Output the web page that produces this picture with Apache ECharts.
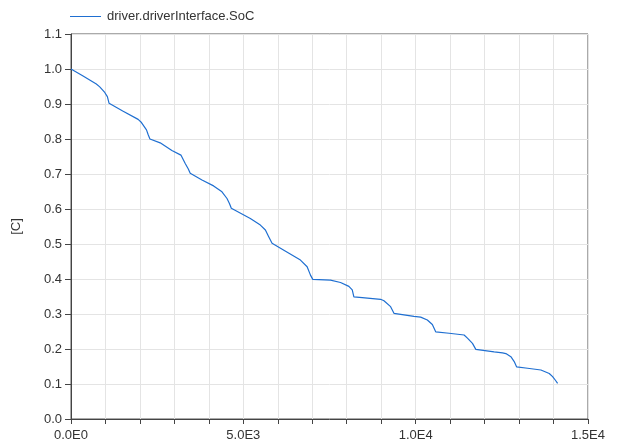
<!DOCTYPE html>
<html><head><meta charset="utf-8">
<script src="https://cdn.jsdelivr.net/npm/echarts@6/dist/echarts.min.js"></script>
<style>html,body{margin:0;padding:0;background:#fff}#c{width:617px;height:446px}</style>
</head><body><div id="c"></div>
<script>
const seriesName = 'driver.driverInterface.SoC';
const timeValues = [0,350,735,834,979,1055,1105,1500,1948,2045,2190,2240,2290,2587,2927,3189,3314,3400,3459,3800,4137,4380,4526,4600,4651,5203,5494,5640,5736,5833,6250,6657,6851,6948,7015,7529,7820,8062,8160,8207,8450,8983,9080,9273,9370,9951,10145,10339,10484,10581,10969,11405,11502,11648,11745,12277,12520,12617,12762,12859,12927,13247,13634,13876,13973,14060,14118];
const socValues = [1.0,0.980,0.957,0.949,0.933,0.921,0.902,0.880,0.856,0.847,0.826,0.812,0.800,0.789,0.767,0.754,0.730,0.715,0.702,0.683,0.666,0.649,0.630,0.615,0.602,0.573,0.554,0.540,0.521,0.502,0.478,0.454,0.435,0.411,0.399,0.397,0.390,0.379,0.369,0.349,0.347,0.342,0.338,0.321,0.302,0.293,0.291,0.283,0.270,0.249,0.245,0.240,0.231,0.216,0.199,0.192,0.189,0.187,0.178,0.164,0.149,0.145,0.140,0.130,0.121,0.110,0.102];
const xTickLabels = {0:'0.0E0',5000:'5.0E3',10000:'1.0E4',15000:'1.5E4'};
const yAxisName = '[C]';

const data = timeValues.map((t,i)=>[t, socValues[i]]);
const chart = echarts.init(document.getElementById('c'));
const font = 'Arial, "Liberation Sans", sans-serif';
const lineColor = '#1f6fd1';
chart.setOption({
  animation:false,
  textStyle:{fontFamily:font},
  legend:{show:true,left:65,top:5,itemWidth:31,itemHeight:1,itemGap:10,
    itemStyle:{color:lineColor,borderWidth:0},
    textStyle:{fontSize:13,color:'#333',fontFamily:font,padding:[0,0,0,1]},
    data:[{name:seriesName,icon:'rect'}]},
  grid:{left:71,right:29,top:34,bottom:27,show:true,borderColor:'#555',borderWidth:1,containLabel:false},
  xAxis:{type:'value',min:0,max:15000,interval:1000,
    axisLine:{show:true,lineStyle:{color:'#444',width:1}},
    axisTick:{show:true,length:5,lineStyle:{color:'#444'}},
    splitLine:{show:true,lineStyle:{color:'#e4e4e4',width:1}},
    axisLabel:{fontSize:13,color:'#333',margin:10,fontFamily:font,
      formatter:v=>xTickLabels[v]!==undefined?xTickLabels[v]:''}},
  yAxis:{type:'value',min:0,max:1.1,interval:0.1,name:yAxisName,nameLocation:'middle',nameGap:48,
    nameTextStyle:{fontSize:13,color:'#333',fontFamily:font},
    axisLine:{show:true,lineStyle:{color:'#444',width:1}},
    axisTick:{show:true,length:6,lineStyle:{color:'#444'}},
    splitLine:{show:true,lineStyle:{color:'#e4e4e4',width:1}},
    axisLabel:{fontSize:13,color:'#333',margin:9,fontFamily:font,formatter:v=>v.toFixed(1)}},
  series:[{name:seriesName,type:'line',data:data,showSymbol:false,symbol:'none',
    lineStyle:{color:lineColor,width:1.2},itemStyle:{color:lineColor}}]
});
</script></body></html>
